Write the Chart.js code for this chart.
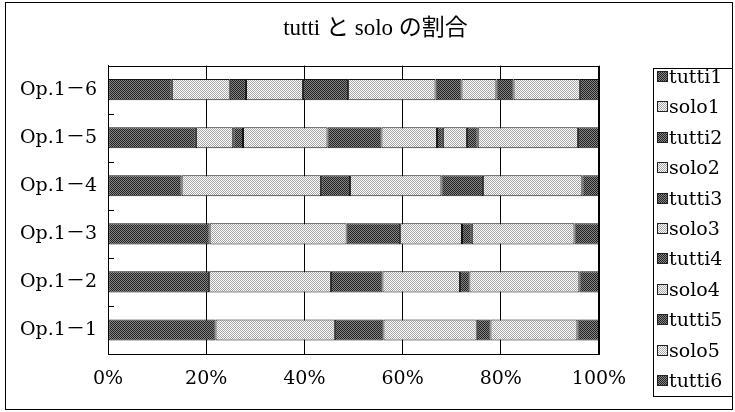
<!DOCTYPE html>
<html>
<head>
<meta charset="utf-8">
<script src="https://cdn.jsdelivr.net/npm/chart.js@4/dist/chart.umd.min.js"></script>
<style>
  html, body { margin: 0; padding: 0; background: #fff; }
  #c { display: block; }
</style>
</head>
<body>
<canvas id="c" width="735" height="412"></canvas>
<script>
// Pieces (bottom to top on the chart)
const categories = ['Op.1－1', 'Op.1－2', 'Op.1－3', 'Op.1－4', 'Op.1－5', 'Op.1－6'];

// Share of each passage in a piece, in percent (null = passage absent)
const tutti1 = [21.9, 20.6, 20.7, 15.0, 17.9, 13.0];
const solo1  = [24.3, 24.8, 27.9, 28.4,  7.6, 11.8];
const tutti2 = [ 9.9, 10.5, 10.9,  5.9,  2.0,  3.3];
const solo2  = [19.0, 15.8, 12.6, 18.6, 17.2, 11.6];
const tutti3 = [ 2.8,  1.9,  2.0,  8.5, 11.0,  9.2];
const solo3  = [17.7, 22.4, 20.9, 20.2, 11.3, 17.8];
const tutti4 = [ 4.4,  4.0,  5.0,  3.4,  1.2,  5.3];
const solo4  = [null, null, null, null,  4.9,  7.1];
const tutti5 = [null, null, null, null,  2.2,  3.5];
const solo5  = [null, null, null, null, 20.4, 13.5];
const tutti6 = [null, null, null, null,  4.3,  3.9];

const seriesNames = ['tutti1', 'solo1', 'tutti2', 'solo2', 'tutti3', 'solo3',
                     'tutti4', 'solo4', 'tutti5', 'solo5', 'tutti6'];
const seriesValues = [tutti1, solo1, tutti2, solo2, tutti3, solo3,
                      tutti4, solo4, tutti5, solo5, tutti6];

const axisTicks = [0, 20, 40, 60, 80, 100];

const TITLE_FONT = "'Liberation Serif', 'Noto Sans CJK JP', serif";
const LABEL_FONT = "'DejaVu Serif', 'Noto Sans CJK JP', serif";

// Dotted fills: dark for tutti, light for solo
function makePattern(base, dot, variant) {
  const c = document.createElement('canvas');
  c.width = 4; c.height = 4;
  const g = c.getContext('2d');
  g.fillStyle = base;
  g.fillRect(0, 0, 4, 4);
  g.fillStyle = dot;
  for (let y = 0; y < 4; y++) {
    for (let x = 0; x < 4; x++) {
      const on = variant === 0 ? (x + y) % 2 === 0
               : ((x + y) % 2 === 0 || (y % 4 === 1 && x % 4 === 1));
      if (on) g.fillRect(x, y, 1, 1);
    }
  }
  return g.createPattern(c, 'repeat');
}

const fills = seriesNames.map((name, i) => {
  const v = Math.floor(i / 2) % 2;
  return name.startsWith('tutti')
    ? makePattern('#858585', '#222222', v)
    : makePattern('#ffffff', '#a6a6a6', 0);
});

const datasets = seriesNames.map((name, i) => ({
  label: name,
  data: seriesValues[i],
  backgroundColor: fills[i],
  borderColor: '#111',
  borderWidth: 1,
  borderSkipped: false,
  barPercentage: 0.44,
  categoryPercentage: 1
}));

// Plot frame, inner category ticks, outer border and legend box
const decorations = {
  id: 'decorations',
  beforeDraw(chart) {
    const ctx = chart.ctx;
    ctx.save();
    ctx.fillStyle = '#fff';
    ctx.fillRect(0, 0, chart.width, chart.height);
    ctx.restore();
  },
  afterDatasetsDraw(chart) {
    const { ctx, chartArea: a, scales: { y } } = chart;
    ctx.save();
    ctx.strokeStyle = '#000';
    ctx.lineWidth = 1;
    ctx.strokeRect(Math.round(a.left) + 0.5, Math.round(a.top) + 0.5,
                   Math.round(a.right - a.left) - 1, Math.round(a.bottom - a.top));
    ctx.beginPath();
    for (let i = 0; i <= categories.length; i++) {
      const py = Math.round(y.getPixelForValue(i - 0.5)) + 0.5;
      ctx.moveTo(a.left, py);
      ctx.lineTo(a.left + 6, py);
    }
    ctx.stroke();
    ctx.restore();
  },
  afterDraw(chart, args, opts) {
    const ctx = chart.ctx;
    ctx.save();
    ctx.strokeStyle = '#000';
    ctx.lineWidth = 1;
    ctx.strokeRect(5.5, 2.5, 727, 407);

    const L = opts.legend;
    ctx.strokeRect(L.x + 0.5, L.y + 0.5, L.w, L.h);
    ctx.font = '19px ' + LABEL_FONT;
    ctx.textBaseline = 'middle';
    ctx.textAlign = 'left';
    chart.data.datasets.forEach((ds, i) => {
      const cy = L.firstY + i * L.step;
      ctx.fillStyle = ds.backgroundColor;
      ctx.fillRect(L.x + 4, Math.round(cy - 6), 11, 11);
      ctx.strokeStyle = '#222';
      ctx.strokeRect(L.x + 4.5, Math.round(cy - 6) + 0.5, 10, 10);
      ctx.fillStyle = '#000';
      ctx.fillText(ds.label, L.x + 16, cy + 1);
    });
    ctx.restore();
  }
};

new Chart(document.getElementById('c'), {
  type: 'bar',
  data: { labels: categories, datasets },
  plugins: [decorations],
  options: {
    indexAxis: 'y',
    responsive: false,
    animation: false,
    devicePixelRatio: 1,
    layout: { padding: { left: 16, right: 0, top: 2, bottom: 0 } },
    plugins: {
      legend: { display: false },
      tooltip: { enabled: false },
      title: {
        display: true,
        text: 'tutti と solo の割合',
        color: '#000',
        font: { family: TITLE_FONT, size: 23, weight: 'normal' },
        padding: { top: 13, bottom: 23 }
      },
      decorations: {
        legend: { x: 653, y: 68, w: 79, h: 328, firstY: 77, step: 30.4 }
      }
    },
    scales: {
      x: {
        stacked: true,
        min: axisTicks[0],
        max: axisTicks[axisTicks.length - 1],
        afterBuildTicks: s => { s.ticks = axisTicks.map(v => ({ value: v })); },
        ticks: {
          callback: v => v + '%',
          color: '#000',
          font: { family: LABEL_FONT, size: 19 },
          padding: 14,
          maxRotation: 0
        },
        grid: { color: '#000', lineWidth: 1, drawTicks: false },
        border: { color: '#000' },
        afterFit: s => { s.paddingRight = 136; s.height = 58; }
      },
      y: {
        stacked: true,
        reverse: true,
        grid: { display: false, drawTicks: false },
        border: { color: '#000' },
        ticks: { color: '#000', font: { family: LABEL_FONT, size: 19 }, padding: 11 },
        afterFit: s => { s.width = 92; }
      }
    }
  }
});
</script>
</body>
</html>
